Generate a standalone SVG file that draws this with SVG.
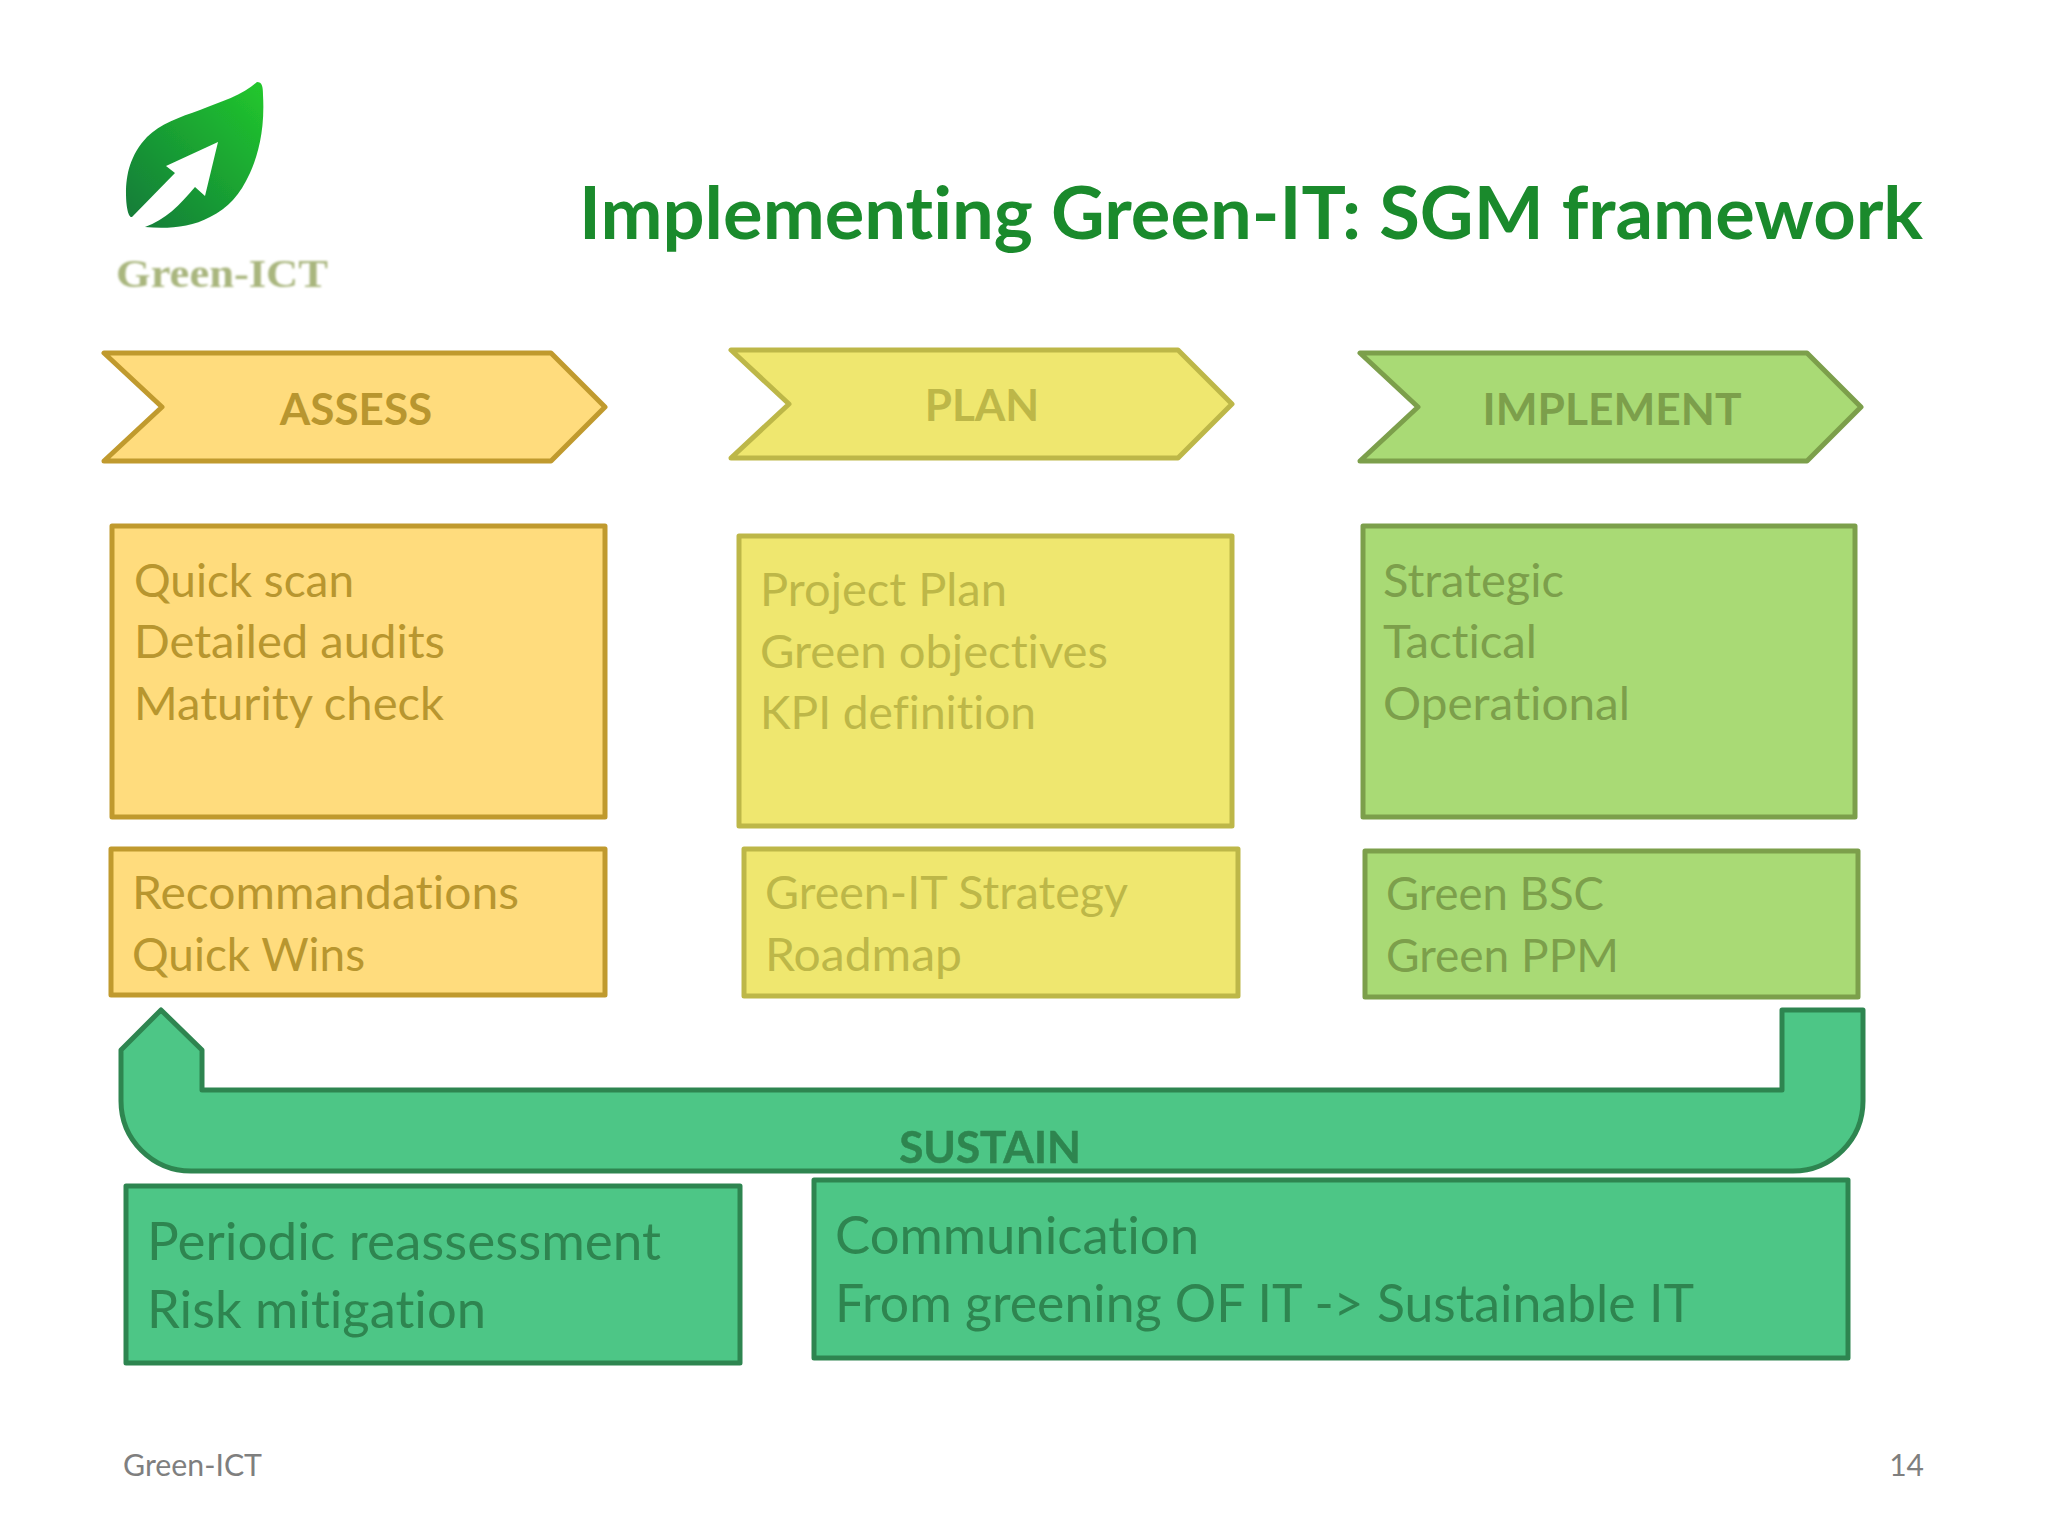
<svg xmlns="http://www.w3.org/2000/svg" width="2048" height="1536" viewBox="0 0 2048 1536">
<style>
text{font-family:"Lato","Liberation Sans",sans-serif;font-variant-ligatures:none}
.s{stroke-width:5;stroke-linejoin:round}
.a{fill:#ffdc7d;stroke:#c09a2e}.at{fill:#b8962f}
.p{fill:#efe76f;stroke:#bdb748}.pt{fill:#bdb748}
.i{fill:#a9da75;stroke:#7c9f4b}.it{fill:#7c9f4b}
.u{fill:#4dc686;stroke:#2e8550}.ut{fill:#2e8550}
.h{font-size:44px;font-weight:700;text-anchor:middle}
.b{font-size:46px}
.c{font-size:53px}
.f{font-size:30px;fill:#7f7f7f}
</style>
<defs>
<linearGradient id="lg" x1="0" y1="1" x2="1" y2="0"><stop offset="0" stop-color="#11793a"/><stop offset="1" stop-color="#22c82c"/></linearGradient>
<filter id="bl"><feGaussianBlur stdDeviation="1"/></filter>
<filter id="bs"><feGaussianBlur stdDeviation="0.6"/></filter>
</defs>
<rect width="2048" height="1536" fill="#fff"/>
<g id="logo">
<path d="M257 82C262 82 263 86 263 95C265 130 258 155 250 173C240 195 228 208 210 217C190 228 165 229 145 227C165 220 180 205 195 187L205 196L218 142L166 166L175 173L132 217C128 218 126 205 126 193C126 175 130 155 147 137C160 124 180 117 200 110C220 102 243 95 257 82Z" fill="url(#lg)" filter="url(#bs)"/>
<text x="116" y="287" font-size="41" font-weight="700" fill="#a9b67e" textLength="212" lengthAdjust="spacingAndGlyphs" filter="url(#bl)" style="font-family:'Liberation Serif',serif">Green-ICT</text>
</g>
<text id="title" x="579" y="239" font-size="72" font-weight="700" fill="#1a8a2c" textLength="1344" lengthAdjust="spacingAndGlyphs">Implementing Green-IT: SGM framework</text>
<g id="assess-head"><path class="s a" d="M104 353H551L605 407L551 461H104L162 407Z"/><text class="h at" x="356" y="425">ASSESS</text></g>
<g id="plan-head"><path class="s p" d="M731 350H1178L1232 404L1178 458H731L789 404Z"/><text class="h pt" x="982" y="421">PLAN</text></g>
<g id="implement-head"><path class="s i" d="M1360 353H1807L1861 407L1807 461H1360L1418 407Z"/><text class="h it" x="1612" y="425" textLength="259" lengthAdjust="spacingAndGlyphs">IMPLEMENT</text></g>
<g id="assess-box"><rect class="s a" x="112" y="526" width="493" height="291"/>
<text class="b at" x="134" y="597" textLength="220" lengthAdjust="spacingAndGlyphs">Quick scan</text><text class="b at" x="134" y="658" textLength="311" lengthAdjust="spacingAndGlyphs">Detailed audits</text><text class="b at" x="134" y="720" textLength="310" lengthAdjust="spacingAndGlyphs">Maturity check</text></g>
<g id="plan-box"><rect class="s p" x="739" y="536" width="493" height="290"/>
<text class="b pt" x="760" y="606" textLength="247" lengthAdjust="spacingAndGlyphs">Project Plan</text><text class="b pt" x="760" y="668" textLength="348" lengthAdjust="spacingAndGlyphs">Green objectives</text><text class="b pt" x="760" y="729" textLength="276" lengthAdjust="spacingAndGlyphs">KPI definition</text></g>
<g id="implement-box"><rect class="s i" x="1363" y="526" width="492" height="291"/>
<text class="b it" x="1383" y="597" textLength="181" lengthAdjust="spacingAndGlyphs">Strategic</text><text class="b it" x="1383" y="658" textLength="154" lengthAdjust="spacingAndGlyphs">Tactical</text><text class="b it" x="1383" y="720" textLength="247" lengthAdjust="spacingAndGlyphs">Operational</text></g>
<g id="assess-out"><rect class="s a" x="111" y="849" width="494" height="146"/>
<text class="b at" x="132" y="909" textLength="387" lengthAdjust="spacingAndGlyphs">Recommandations</text><text class="b at" x="132" y="971" textLength="233" lengthAdjust="spacingAndGlyphs">Quick Wins</text></g>
<g id="plan-out"><rect class="s p" x="744" y="849" width="494" height="147"/>
<text class="b pt" x="765" y="909" textLength="363" lengthAdjust="spacingAndGlyphs">Green-IT Strategy</text><text class="b pt" x="765" y="971" textLength="197" lengthAdjust="spacingAndGlyphs">Roadmap</text></g>
<g id="implement-out"><rect class="s i" x="1365" y="851" width="493" height="146"/>
<text class="b it" x="1386" y="910" textLength="218" lengthAdjust="spacingAndGlyphs">Green BSC</text><text class="b it" x="1386" y="972" textLength="233" lengthAdjust="spacingAndGlyphs">Green PPM</text></g>
<g id="sustain"><path class="s u" d="M161 1010L202 1050V1090H1782V1010H1863V1101A70 70 0 0 1 1793 1171H191A70 70 0 0 1 121 1101V1050Z"/><text class="h ut" x="990" y="1163" stroke="#2e8550" stroke-width="0.5" filter="url(#bs)">SUSTAIN</text></g>
<g id="sustain-left"><rect class="s u" x="126" y="1186" width="614" height="177"/>
<text class="c ut" x="147" y="1260" textLength="514" lengthAdjust="spacingAndGlyphs">Periodic reassessment</text><text class="c ut" x="147" y="1328" textLength="339" lengthAdjust="spacingAndGlyphs">Risk mitigation</text></g>
<g id="sustain-right"><rect class="s u" x="814" y="1180" width="1034" height="178"/>
<text class="c ut" x="835" y="1254" textLength="364" lengthAdjust="spacingAndGlyphs">Communication</text><text class="c ut" x="835" y="1322" textLength="859" lengthAdjust="spacingAndGlyphs">From greening OF IT -&gt; Sustainable IT</text></g>
<text class="f" x="123" y="1476" textLength="139" lengthAdjust="spacingAndGlyphs">Green-ICT</text>
<text class="f" x="1924" y="1476" text-anchor="end">14</text>
</svg>
